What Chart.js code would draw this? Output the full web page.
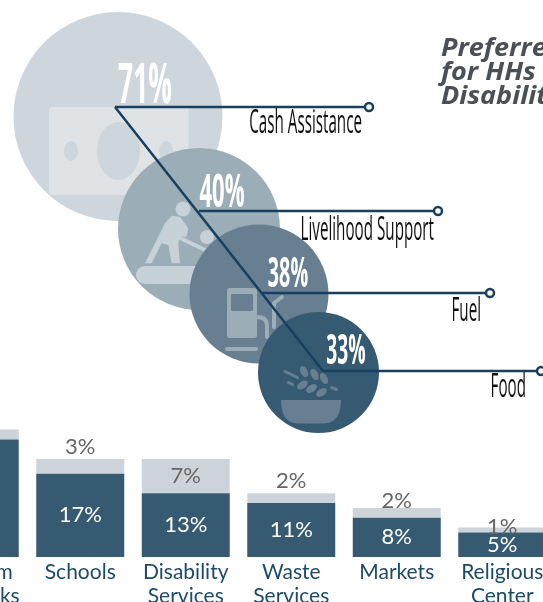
<!DOCTYPE html>
<html>
<head>
<meta charset="utf-8">
<style>
  html, body { margin: 0; padding: 0; background: #fff; }
  body { position: relative; width: 543px; height: 602px; overflow: hidden; }
  #bubbleWrap { position: absolute; left: 0; top: 0; width: 543px; height: 440px; }
  #barWrap { position: absolute; left: -78px; top: 420px; width: 633px; height: 190px; }
  #heading {
    position: absolute; left: 441px; top: 34px; width: 300px;
    font: italic 700 25px/24px "Open Sans", sans-serif; color: #4b5057; white-space: nowrap;
    transform: scaleX(1.08); transform-origin: left top;
  }
</style>
<script src="https://cdn.jsdelivr.net/npm/chart.js@4/dist/chart.umd.min.js"></script>
</head>
<body>
<div id="bubbleWrap"><canvas id="bubbles"></canvas></div>
<div id="barWrap"><canvas id="bars"></canvas></div>
<div id="heading">Preferred Services<br>for HHs with<br>Disabilities</div>
<script>
// Preferred assistance, shown as overlapping bubbles with leader lines
const assistanceLabels = ['Cash Assistance', 'Livelihood Support', 'Fuel', 'Food'];
const assistanceValues = [71, 40, 38, 33];

// Bubble layout, in the units of the layout scales below (width 543, height 440)
const bubbleX = [118, 199, 259, 318.5];
const bubbleY = [116.5, 229, 294, 372.5];
const bubbleRadius = [104.5, 81, 69.5, 60.5];
const leaderStartX = [115, 199, 262, 323];
const leaderY = [107, 211, 293, 371];
const leaderEndX = [369, 438, 490, 541];

// Facilities bars
const facilityLabels = [['Telecom', 'Networks'], 'Schools', ['Disability', 'Services'], ['Waste', 'Services'], 'Markets', ['Religious', 'Center']];
const primaryShare = [24, 17, 13, 11, 8, 5];
const secondaryShare = [2, 3, 7, 2, 2, 1];

const NAVY = '#173f5f';
const bubbleColors = ['#cdd6dc', '#9badb7', '#687f92', '#365a71'];
const iconColors = ['#e0e3e5', '#c6d1d8', '#9badb7', '#687f92'];
const BAR_DARK = '#365a72';
const BAR_LIGHT = '#ccd4da';
const LEADER_WIDTH = 2.5;

const oval = (c, x, y, rx, ry, a = 0) => {
  c.beginPath(); c.ellipse(x, y, rx, ry, a, 0, Math.PI * 2); c.fill();
};

// Pictograms sit inside each bubble, painted straight after it
const icons = [
  (c, x, y) => { // banknote
    c.fillStyle = iconColors[0];
    c.beginPath(); c.roundRect(x - 69, y - 9.5, 139.5, 88, 4); c.fill();
    c.fillStyle = bubbleColors[0];
    oval(c, x + 0.5, y + 34.5, 21.6, 29);
    oval(c, x - 47, y + 34.5, 7, 10);
    oval(c, x + 48, y + 34.5, 7, 10);
  },
  (c, x, y) => { // person at a grinding stone
    c.fillStyle = c.strokeStyle = iconColors[1];
    c.lineCap = 'round'; c.lineJoin = 'round';
    oval(c, x - 16, y - 20, 7.5, 7.5);
    oval(c, x + 8, y + 8, 7, 7);
    c.beginPath(); c.roundRect(x - 63, y + 37, 90, 18, 9); c.fill();
    c.beginPath();
    [[120, 85], [140, 62], [165, 65], [190, 100], [185, 125], [165, 125], [160, 145], [165, 205],
     [140, 205], [130, 150], [110, 145], [80, 205], [60, 205]].forEach(([zx, zy], i) => {
      const px = x + zx / 3 - 74, py = y + zy / 3 - 34;
      if (i) c.lineTo(px, py); else c.moveTo(px, py);
    });
    c.closePath(); c.fill();
    c.lineWidth = 4;
    c.beginPath(); c.moveTo(x - 19, y + 9); c.lineTo(x + 6, y + 21); c.stroke();
  },
  (c, x, y) => { // fuel pump
    c.fillStyle = c.strokeStyle = iconColors[2];
    c.beginPath(); c.roundRect(x - 32, y - 6, 30, 50, 3); c.fill();
    c.fillStyle = bubbleColors[2];
    c.beginPath(); c.roundRect(x - 28, y, 22, 17, 1); c.fill();
    c.fillStyle = iconColors[2];
    c.beginPath(); c.roundRect(x - 34, y + 53, 33, 4, 2); c.fill();
    c.lineWidth = 4; c.lineCap = 'round'; c.lineJoin = 'round';
    c.beginPath(); c.moveTo(x - 2, y + 23); c.quadraticCurveTo(x + 8, y + 23, x + 8, y + 32); c.lineTo(x + 8, y + 43); c.stroke();
    c.beginPath(); c.moveTo(x + 15, y + 33); c.lineTo(x + 15, y + 9); c.lineTo(x + 23, y + 3); c.stroke();
  },
  (c, x, y) => { // bowl of grain
    c.fillStyle = c.strokeStyle = iconColors[3];
    c.beginPath(); c.moveTo(x - 37.5, y + 27.5); c.lineTo(x + 22.5, y + 27.5);
    c.quadraticCurveTo(x + 22.5, y + 50, x + 6, y + 51);
    c.lineTo(x - 21, y + 51); c.quadraticCurveTo(x - 37.5, y + 50, x - 37.5, y + 27.5); c.fill();
    [[-14.5, -1, 1.1], [-4, 2, 1.1], [5.5, 6, 1.1], [-16, 12.5, -0.6], [-7, 16, -0.6], [3, 20, -0.6]]
      .forEach(([dx, dy, a]) => oval(c, x + dx, y + dy, 6, 3.5, a));
    c.lineWidth = 3; c.lineCap = 'round';
    [[-33.5, -1, -21, 5], [-30, 10, -26, 12], [13, 15, 18, 17]].forEach(([x0, y0, x1, y1]) => {
      c.beginPath(); c.moveTo(x + x0, y + y0); c.lineTo(x + x1, y + y1); c.stroke();
    });
  }
];

const bubbleDecor = {
  id: 'bubbleDecor',
  afterDatasetDraw(chart, args) {
    const draw = icons[args.index];
    if (!draw) return;
    const { x: sx, y: sy } = chart.scales;
    const c = chart.ctx;
    c.save();
    draw(c, sx.getPixelForValue(bubbleX[args.index]), sy.getPixelForValue(bubbleY[args.index]));
    c.restore();
  },
  afterDatasetsDraw(chart) {
    const { x: sx, y: sy } = chart.scales;
    const c = chart.ctx;
    const valueStyle = [[30, -4, 56], [23, -4, 47], [26, -6, 42], [23, -7, 41]];
    const nameOffset = [-7, -4, -9, -15];
    const nameDrop = [26, 29, 28, 26];
    const narrowText = (text, x, y, font, color, squeeze, align) => {
      c.save();
      c.translate(x, y);
      c.scale(squeeze, 1);
      c.font = font;
      c.fillStyle = color;
      c.textAlign = align;
      c.textBaseline = 'alphabetic';
      c.fillText(text, 0, 0);
      c.restore();
    };
    assistanceValues.forEach((v, i) => {
      const hx = sx.getPixelForValue(leaderStartX[i]);
      const ly = sy.getPixelForValue(leaderY[i]);
      const [dx, dy, size] = valueStyle[i];
      narrowText(v + '%', hx + dx, ly + dy, `700 ${size}px "Open Sans", sans-serif`, '#ffffff', 0.47, 'center');
      narrowText(assistanceLabels[i], sx.getPixelForValue(leaderEndX[i]) + nameOffset[i], ly + nameDrop[i],
        '500 32px "Open Sans", sans-serif', '#111111', 0.475, 'right');
    });
  }
};

const bubbleDatasets = assistanceValues.map((v, i) => ({
  type: 'bubble',
  label: assistanceLabels[i],
  data: [{ x: bubbleX[i], y: bubbleY[i], r: bubbleRadius[i] }],
  backgroundColor: bubbleColors[i],
  borderWidth: 0,
  order: 10 - i,
  clip: false
}));
const leaderDatasets = assistanceValues.map((v, i) => ({
  type: 'scatter',
  showLine: true,
  data: [{ x: leaderStartX[i], y: leaderY[i] }, { x: leaderEndX[i], y: leaderY[i] }],
  borderColor: NAVY,
  borderWidth: LEADER_WIDTH,
  pointRadius: [0, 4],
  pointBackgroundColor: '#ffffff',
  pointBorderColor: NAVY,
  pointBorderWidth: LEADER_WIDTH,
  order: 1,
  clip: false
}));
const spineDataset = {
  type: 'scatter',
  showLine: true,
  data: [{ x: leaderStartX[0], y: leaderY[0] }, { x: leaderStartX[3], y: leaderY[3] }],
  borderColor: NAVY,
  borderWidth: LEADER_WIDTH,
  pointRadius: 0,
  order: 2,
  clip: false
};

new Chart(document.getElementById('bubbles'), {
  type: 'bubble',
  data: { datasets: [...bubbleDatasets, ...leaderDatasets, spineDataset] },
  options: {
    responsive: true,
    maintainAspectRatio: false,
    animation: false,
    layout: { padding: 0, autoPadding: false },
    plugins: { legend: { display: false }, tooltip: { enabled: false }, title: { display: false } },
    scales: {
      x: { type: 'linear', min: 0, max: 543, display: false },
      y: { type: 'linear', min: 0, max: 440, reverse: true, display: false }
    }
  },
  plugins: [bubbleDecor]
});

// Value labels: the dark share sits inside its bar, the light share inside when tall enough,
// otherwise above the bar; a very thin share straddles the top edge
const secondaryLift = [12, 12, 0, 12, 7, 1];
const barLabels = {
  id: 'barLabels',
  afterDatasetsDraw(chart) {
    const c = chart.ctx;
    c.save();
    c.font = '22px Lato, sans-serif';
    c.textAlign = 'center';
    c.textBaseline = 'middle';
    chart.data.datasets.forEach((ds, d) => {
      chart.getDatasetMeta(d).data.forEach((bar, i) => {
        const v = ds.data[i];
        let y = (bar.y + bar.base) / 2;
        if (d === 1 && v < 5) y = bar.y - secondaryLift[i];
        c.fillStyle = d === 0 ? '#ffffff' : '#666666';
        c.fillText(v + '%', bar.x, y);
      });
    });
    c.restore();
  }
};

new Chart(document.getElementById('bars'), {
  type: 'bar',
  data: {
    labels: facilityLabels,
    datasets: [
      { label: 'Primary', data: primaryShare, backgroundColor: BAR_DARK, barPercentage: 0.834, categoryPercentage: 1 },
      { label: 'Secondary', data: secondaryShare, backgroundColor: BAR_LIGHT, barPercentage: 0.834, categoryPercentage: 1 }
    ]
  },
  options: {
    responsive: true,
    maintainAspectRatio: false,
    animation: false,
    layout: { padding: 0 },
    plugins: { legend: { display: false }, tooltip: { enabled: false }, title: { display: false } },
    scales: {
      x: {
        stacked: true,
        grid: { display: false, drawTicks: false },
        border: { display: false },
        ticks: { color: '#1d4a68', font: { family: 'Lato, sans-serif', size: 21, lineHeight: 1.14 }, maxRotation: 0, autoSkip: false, padding: 3 },
        afterFit(scale) { scale.height = 53; }
      },
      y: { stacked: true, min: 0, max: 27.96, display: false }
    }
  },
  plugins: [barLabels]
});
</script>
</body>
</html>
